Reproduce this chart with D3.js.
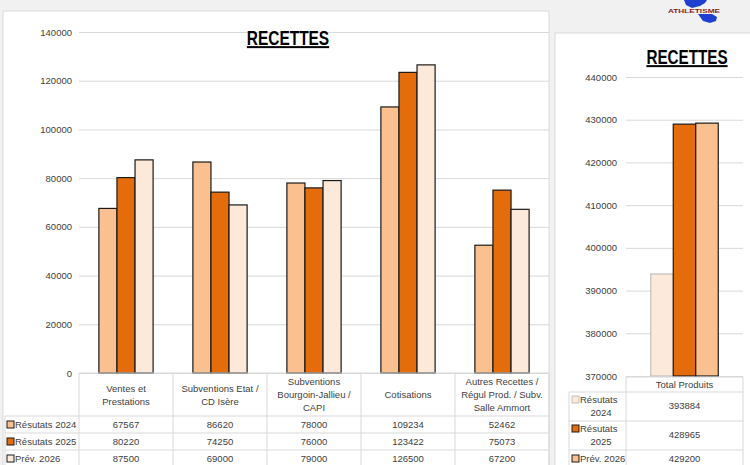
<!DOCTYPE html>
<html>
<head>
<meta charset="utf-8">
<script src="https://cdn.jsdelivr.net/npm/d3@7"></script>
<style>
  body { margin: 0; background: #f1f1f1; }
  svg { display: block; font-family: "Liberation Sans", Arial, sans-serif; }
</style>
</head>
<body>
<div id="chart"></div>
<script>
// data
const categories = ["Ventes et\nPrestations", "Subventions Etat /\nCD Isère", "Subventions\nBourgoin-Jallieu /\nCAPI", "Cotisations", "Autres Recettes /\nRégul Prod. / Subv.\nSalle Ammort"];
const seriesNames = ["Résutats 2024", "Résutats 2025", "Prév. 2026"];
const res2024 = [67567, 86620, 78000, 109234, 52462];
const res2025 = [80220, 74250, 76000, 123422, 75073];
const prev2026 = [87500, 69000, 79000, 126500, 67200];
const leftTicks = [0, 20000, 40000, 60000, 80000, 100000, 120000, 140000];

const totalCategory = ["Total Produits"];
const totals = [393884, 428965, 429200];
const totalLabels = ["Résutats\n2024", "Résutats\n2025", "Prév. 2026"];
const rightTicks = [370000, 380000, 390000, 400000, 410000, 420000, 430000, 440000];

const W = 750, H = 465;
const leftColors = ["#FBC08F", "#E46C0A", "#FDE9D9"];
const rightColors = ["#FDE9D9", "#E46C0A", "#FBC08F"];
const GRID = "#d9d9d9", TXT = "#404040";

const svg = d3.select("#chart").append("svg").attr("width", W).attr("height", H);
svg.append("rect").attr("width", W).attr("height", H).attr("fill", "#f1f1f1");

// small logo top right
svg.append("path")
  .attr("d", "M684,0 L707,0 L705,3 L700,6 L692,8 L686,5 Z M698,14 L712,14 L717,17 L716,21 L710,23 L703,21 Z")
  .attr("fill", "#1f3fcf");
svg.append("text").attr("x", 694).attr("y", 12.5).attr("text-anchor", "middle")
  .attr("font-size", 5.5).attr("fill", "#8b1a1a").attr("font-weight", "bold")
  .attr("textLength", 52).attr("lengthAdjust", "spacingAndGlyphs").text("ATHLETISME");

function title(g, cx, base, w) {
  // bold title squeezed horizontally to the narrow look of the original
  const t = g.append("g").attr("transform", `translate(${cx},${base}) scale(${w / 105},1)`);
  t.append("text").attr("text-anchor", "middle")
    .attr("font-weight", "bold").attr("font-size", 20).attr("fill", "#000")
    .attr("text-decoration", "underline").text("RECETTES");
}

// ---------- left chart ----------
const L = svg.append("g");
L.append("rect").attr("x", 3).attr("y", 11).attr("width", 546).attr("height", 460)
  .attr("fill", "#fff").attr("stroke", "#d9d9d9");

const y = d3.scaleLinear().domain([0, 140000]).range([373, 32]);
const x0 = d3.scaleBand().domain(categories).range([79, 549]).paddingInner(0).paddingOuter(0);
const x1 = d3.scaleBand().domain(seriesNames).range([0, x0.bandwidth()]).paddingInner(0).paddingOuter(1.1);

const yAxis = L.append("g").attr("transform", "translate(79,0)")
  .call(d3.axisLeft(y).tickValues(leftTicks).tickSize(-470).tickPadding(7).tickFormat(d3.format("d")));
yAxis.select(".domain").remove();
yAxis.selectAll(".tick line").attr("stroke", GRID);
yAxis.selectAll(".tick text").attr("font-size", 9.5).attr("fill", TXT);

title(L, 288, 45, 81);

const leftSeries = [res2024, res2025, prev2026];
const groups = L.selectAll("g.cat").data(categories).join("g")
  .attr("class", "cat").attr("transform", d => `translate(${x0(d)},0)`);
groups.selectAll("rect").data((d, i) => seriesNames.map((s, j) => ({ s, j, v: leftSeries[j][i] })))
  .join("rect")
  .attr("x", d => x1(d.s)).attr("width", x1.bandwidth())
  .attr("y", d => y(d.v)).attr("height", d => y(0) - y(d.v))
  .attr("fill", d => leftColors[d.j]).attr("stroke", "#1a1a1a").attr("stroke-width", 1.2);

// data table
const rowTop = [416, 433, 450];
const tbl = L.append("g").attr("stroke", GRID).attr("stroke-width", 1);
tbl.append("line").attr("x1", 79).attr("x2", 549).attr("y1", 373).attr("y2", 373);
rowTop.forEach(r => tbl.append("line").attr("x1", 5).attr("x2", 549).attr("y1", r).attr("y2", r));
tbl.append("line").attr("x1", 5).attr("x2", 5).attr("y1", 416).attr("y2", H);
categories.forEach(c => tbl.append("line").attr("x1", x0(c)).attr("x2", x0(c)).attr("y1", 373).attr("y2", H));
tbl.append("line").attr("x1", 549).attr("x2", 549).attr("y1", 373).attr("y2", H);

categories.forEach(c => {
  const lines = c.split("\n");
  const cx = x0(c) + x0.bandwidth() / 2;
  const t = L.append("text").attr("text-anchor", "middle").attr("font-size", 9.5).attr("fill", TXT);
  const start = 394.5 - (lines.length - 1) * 6.5 + 3.5;
  lines.forEach((ln, k) => t.append("tspan").attr("x", cx).attr("y", start + k * 13).text(ln));
});

seriesNames.forEach((s, j) => {
  const ry = rowTop[j];
  L.append("rect").attr("x", 7).attr("y", ry + 5).attr("width", 7).attr("height", 7)
    .attr("fill", leftColors[j]).attr("stroke", "#1a1a1a").attr("stroke-width", 1);
  L.append("text").attr("x", 15).attr("y", ry + 12).attr("font-size", 9.5).attr("fill", TXT).text(s);
  categories.forEach((c, i) => {
    L.append("text").attr("x", x0(c) + x0.bandwidth() / 2).attr("y", ry + 12)
      .attr("text-anchor", "middle").attr("font-size", 9.5).attr("fill", TXT)
      .text(leftSeries[j][i]);
  });
});

// ---------- right chart ----------
const R = svg.append("g");
R.append("rect").attr("x", 555).attr("y", 33).attr("width", 200).attr("height", 440)
  .attr("fill", "#fff").attr("stroke", "#d9d9d9");

const yR = d3.scaleLinear().domain([370000, 440000]).range([376, 77]);
const xR0 = d3.scaleBand().domain(totalCategory).range([626, 743]);
const xR1 = d3.scaleBand().domain(seriesNames).range([0, xR0.bandwidth()]).paddingInner(0).paddingOuter(1.1);

const yAxisR = R.append("g").attr("transform", "translate(626,0)")
  .call(d3.axisLeft(yR).tickValues(rightTicks).tickSize(-117).tickPadding(9).tickFormat(d3.format("d")));
yAxisR.select(".domain").remove();
yAxisR.selectAll(".tick line").attr("stroke", GRID);
yAxisR.selectAll(".tick text").attr("font-size", 9.5).attr("fill", TXT);

title(R, 687, 64, 80);

R.selectAll("rect.tot").data(seriesNames.map((s, j) => ({ s, j, v: totals[j] })))
  .join("rect").attr("class", "tot")
  .attr("x", d => xR0(totalCategory[0]) + xR1(d.s)).attr("width", xR1.bandwidth())
  .attr("y", d => yR(d.v)).attr("height", d => yR(370000) - yR(d.v))
  .attr("fill", d => rightColors[d.j])
  .attr("stroke", d => d.j === 0 ? "#bfbfbf" : "#1a1a1a").attr("stroke-width", 1.2);

const rTop = [392, 421, 450];
const tblR = R.append("g").attr("stroke", GRID).attr("stroke-width", 1);
tblR.append("line").attr("x1", 626).attr("x2", 743).attr("y1", 377).attr("y2", 377);
rTop.forEach(r => tblR.append("line").attr("x1", 569).attr("x2", 743).attr("y1", r).attr("y2", r));
tblR.append("line").attr("x1", 569).attr("x2", 569).attr("y1", 392).attr("y2", H);
tblR.append("line").attr("x1", 626).attr("x2", 626).attr("y1", 377).attr("y2", H);
tblR.append("line").attr("x1", 743).attr("x2", 743).attr("y1", 377).attr("y2", H);

R.append("text").attr("x", 684.5).attr("y", 388).attr("text-anchor", "middle")
  .attr("font-size", 9.5).attr("fill", TXT).text(totalCategory[0]);

totalLabels.forEach((lab, j) => {
  const ry = rTop[j];
  const lines = lab.split("\n");
  R.append("rect").attr("x", 572).attr("y", ry + (lines.length > 1 ? 4 : 5)).attr("width", 7).attr("height", 7)
    .attr("fill", rightColors[j]).attr("stroke", j === 0 ? "#bfbfbf" : "#1a1a1a").attr("stroke-width", 1);
  if (lines.length > 1) {
    R.append("text").attr("x", 580).attr("y", ry + 11).attr("font-size", 9.5).attr("fill", TXT).text(lines[0]);
    R.append("text").attr("x", 601).attr("y", ry + 24).attr("text-anchor", "middle")
      .attr("font-size", 9.5).attr("fill", TXT).text(lines[1]);
  } else {
    R.append("text").attr("x", 580).attr("y", ry + 12).attr("font-size", 9.5).attr("fill", TXT).text(lines[0]);
  }
  R.append("text").attr("x", 684.5).attr("y", ry + (lines.length > 1 ? 17 : 12)).attr("text-anchor", "middle")
    .attr("font-size", 9.5).attr("fill", TXT).text(totals[j]);
});
</script>
</body>
</html>
